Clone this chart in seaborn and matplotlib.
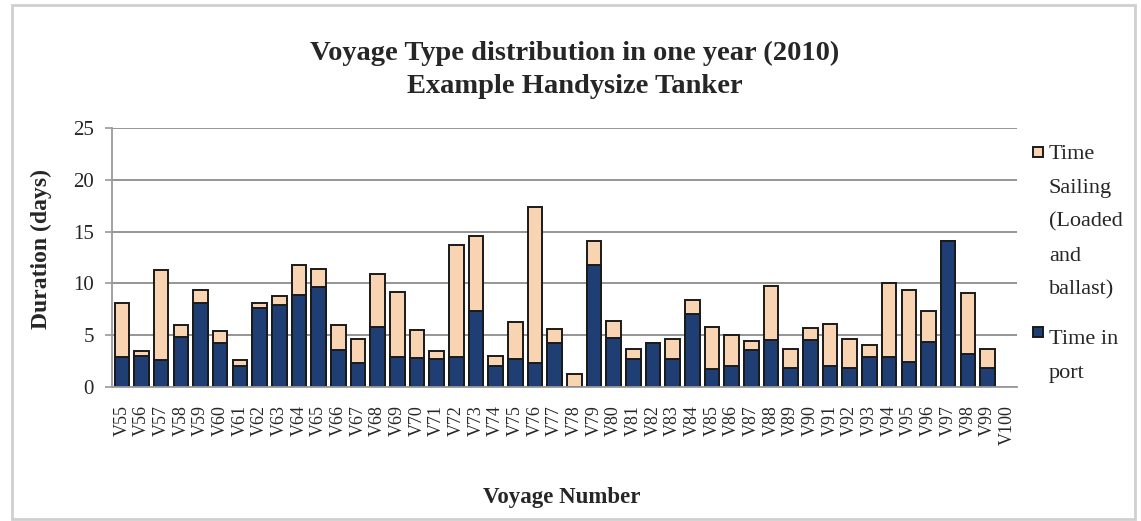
import matplotlib
matplotlib.use("Agg")
import matplotlib.pyplot as plt
import seaborn as sns
import pandas as pd
from matplotlib.patches import Rectangle

# Voyage durations for the example Handysize tanker, 2010 (days)
voyages = [f"V{n}" for n in range(55, 101)]
time_in_port = [2.9, 3.0, 2.6, 4.8, 8.1, 4.2, 2.0, 7.6, 7.9, 8.9, 9.7, 3.6, 2.3, 5.8,
                2.9, 2.8, 2.7, 2.85, 7.3, 2.0, 2.7, 2.3, 4.2, 0.0, 11.8, 4.7, 2.7, 4.2,
                2.7, 7.0, 1.7, 2.0, 3.6, 4.5, 1.8, 4.5, 2.0, 1.8, 2.9, 2.85, 2.4, 4.3,
                14.1, 3.2, 1.8]
time_sailing = [5.2, 0.5, 8.7, 1.2, 1.3, 1.2, 0.65, 0.5, 0.9, 2.9, 1.7, 2.4, 2.3, 5.1,
                6.3, 2.7, 0.8, 10.9, 7.3, 1.0, 3.6, 15.05, 1.4, 1.3, 2.3, 1.7, 0.95, 0.0,
                1.9, 1.4, 4.1, 3.0, 0.8, 5.25, 1.9, 1.2, 4.1, 2.8, 1.2, 7.15, 7.0, 3.0,
                0.0, 5.9, 1.9]

df = pd.DataFrame({
    "voyage": voyages[:len(time_in_port)],
    "port": time_in_port,
    "sailing": time_sailing,
})
df["total"] = df["port"] + df["sailing"]

sailing_color = "#f9d4b2"
port_color = "#1f3f74"
edge_color = "#1a1a1a"
serif = ["Liberation Serif", "DejaVu Serif"]

sns.set_style("white")
plt.rcParams["font.family"] = serif

fig = plt.figure(figsize=(11.41, 5.21), dpi=100)
ax = fig.add_axes([112 / 1141, 1 - 387 / 521, (1017 - 112) / 1141, (387 - 128) / 521])

# Stacked bars: full voyage length in tan, port time overlaid from the base
sns.barplot(data=df, x="voyage", y="total", order=voyages, color=sailing_color,
            saturation=1, width=0.74, edgecolor=edge_color, linewidth=1.4, ax=ax)
sns.barplot(data=df, x="voyage", y="port", order=voyages, color=port_color,
            saturation=1, width=0.74, edgecolor=edge_color, linewidth=1.4, ax=ax)

ax.set_xlim(-0.5, len(voyages) - 0.5)
ax.set_ylim(0, 25)
ax.set_yticks([0, 5, 10, 15, 20, 25])
ax.yaxis.grid(True, color="#8c8c8c", linewidth=1.3)
ax.set_axisbelow(True)

for side in ("top", "right"):
    ax.spines[side].set_visible(False)
for side in ("left", "bottom"):
    ax.spines[side].set_color("#9a9a9a")
    ax.spines[side].set_linewidth(1.3)

# Category labels at bar centres, tick marks between categories
ax.set_xticks(range(len(voyages)))
ax.set_xticklabels(voyages, rotation=90, fontsize=13)
ax.tick_params(axis="x", which="major", length=0, pad=13)
ax.set_xticks([i - 0.5 for i in range(len(voyages) + 1)], minor=True)
ax.tick_params(axis="x", which="minor", length=6, width=1.2, color="#9a9a9a", direction="out")
ax.tick_params(axis="y", which="major", length=5, width=1.2, color="#9a9a9a",
               direction="out", labelsize=15, pad=8, left=True)

ax.set_xlabel("Voyage Number", fontsize=16.5, fontweight="bold")
ax.set_ylabel("Duration (days)", fontsize=17, fontweight="bold")
ax.xaxis.set_label_coords((562 - 112) / (1017 - 112), -(497 - 387) / (387 - 128))
ax.yaxis.set_label_coords(-(112 - 41) / (1017 - 112), (387 - 249) / (387 - 128))
ax.xaxis.label.set_va("center")
ax.yaxis.label.set_va("center")

fig.text(0.5 * (300 + 850) / 1141, 1 - 70 / 521,
         "Voyage Type distribution in one year (2010)\nExample Handysize Tanker",
         ha="center", va="center", fontsize=20.5, fontweight="bold", linespacing=1.4)

# Legend: square swatch beside the first line of each wrapped label
for color, ymid in ((sailing_color, 152), (port_color, 332)):
    fig.add_artist(Rectangle((1033 / 1141, 1 - (ymid + 5) / 521), 10 / 1141, 10 / 521,
                             transform=fig.transFigure, facecolor=color,
                             edgecolor=edge_color, linewidth=1.4))
for label, ytop in (("Time\nSailing\n(Loaded\nand\nballast)", 145),
                    ("Time in\nport", 330)):
    fig.text(1049 / 1141, 1 - ytop / 521, label, ha="left", va="top",
             fontsize=16, linespacing=2.05)

# Light outer frame of the chart area
fig.add_artist(Rectangle((12 / 1141, 1 - 519 / 521), (1135 - 12) / 1141, (519 - 5) / 521,
                         transform=fig.transFigure, fill=False,
                         edgecolor="#cfcfcf", linewidth=2))

fig.savefig("out.png", dpi=100)
